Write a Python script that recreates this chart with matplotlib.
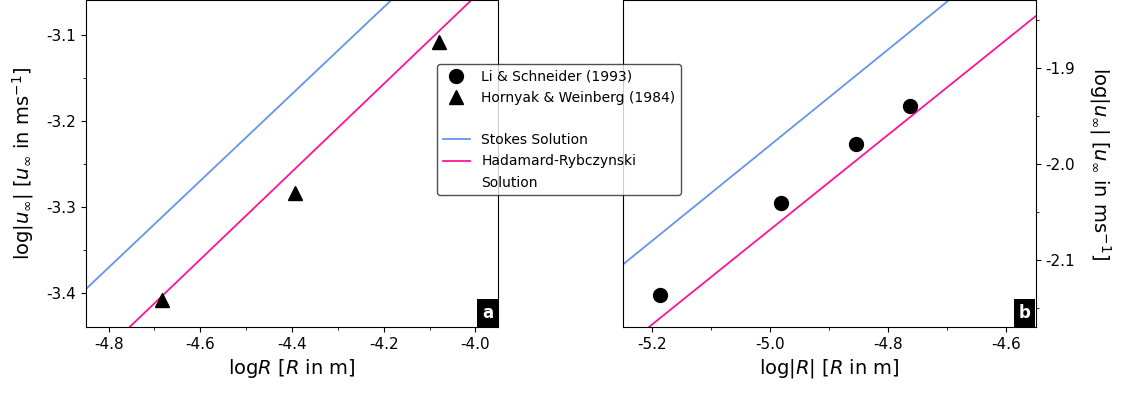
import matplotlib
matplotlib.use("Agg")
import matplotlib.pyplot as plt
from matplotlib.lines import Line2D
import numpy as np

# Panel a: Hornyak & Weinberg (1984)
hw_logR = [-4.684, -4.393, -4.080]
hw_logu = [-3.408, -3.284, -3.108]
# Theory lines, panel a (endpoints in log R, log u)
a_line_logR = [-4.85, -3.95]
a_stokes_logu = [-3.396, -2.941]
a_hr_logu = [-3.489, -3.029]

# Panel b: Li & Schneider (1993)
ls_logR = [-5.186, -4.982, -4.855, -4.762]
ls_logu = [-2.137, -2.041, -1.979, -1.940]
b_line_logR = [-5.25, -4.55]
b_stokes_logu = [-2.105, -1.756]
b_hr_logu = [-2.192, -1.846]

a_xticks = [-4.8, -4.6, -4.4, -4.2, -4.0]
a_yticks = [-3.4, -3.3, -3.2, -3.1]
b_xticks = [-5.2, -5.0, -4.8, -4.6]
b_yticks = [-2.1, -2.0, -1.9]

legend_labels = ["Li & Schneider (1993)", "Hornyak & Weinberg (1984)", " ",
                 "Stokes Solution", "Hadamard-Rybczynski", "Solution"]

stokes_color = "cornflowerblue"
hr_color = "#ff1493"

plt.rcParams["font.family"] = "DejaVu Sans"
fig = plt.figure(figsize=(11.35, 3.96), dpi=100)
axa = fig.add_axes([85.7/1135, 69/396, 412.7/1135, 327/396])
axb = fig.add_axes([622.7/1135, 69/396, 412.8/1135, 327/396])

lw = 1.3
axa.plot(a_line_logR, a_stokes_logu, color=stokes_color, lw=lw)
axa.plot(a_line_logR, a_hr_logu, color=hr_color, lw=lw)
axa.plot(hw_logR, hw_logu, linestyle="none", marker="^", color="black", ms=10)
axa.set_xlim(-4.85, -3.95)
axa.set_ylim(-3.44, -3.059)
axa.set_xticks(a_xticks)
axa.set_xticklabels([f"{v:.1f}" for v in a_xticks])
axa.set_yticks(a_yticks)
axa.set_yticklabels([f"{v:.1f}" for v in a_yticks])
axa.set_xticks(np.arange(-4.7, -3.95, 0.2), minor=True)
axa.set_yticks([-3.35, -3.25, -3.15], minor=True)
axa.set_xlabel(r"log$R$ [$R$ in m]", fontsize=14)
axa.set_ylabel(r"log$|u_{\infty}|$ [$u_{\infty}$ in ms$^{-1}$]", fontsize=14,
               labelpad=7)

axb.plot(b_line_logR, b_stokes_logu, color=stokes_color, lw=lw)
axb.plot(b_line_logR, b_hr_logu, color=hr_color, lw=lw)
axb.plot(ls_logR, ls_logu, linestyle="none", marker="o", color="black", ms=10)
axb.set_xlim(-5.25, -4.55)
axb.set_ylim(-2.17, -1.829)
axb.set_xticks(b_xticks)
axb.set_xticklabels([f"{v:.1f}" for v in b_xticks])
axb.set_yticks(b_yticks)
axb.set_yticklabels([f"{v:.1f}" for v in b_yticks])
axb.set_xticks([-5.1, -4.9, -4.7], minor=True)
axb.set_yticks([-2.15, -2.05, -1.95, -1.85], minor=True)
axb.yaxis.tick_right()
axb.yaxis.set_label_position("right")
axb.set_xlabel(r"log$|R|$ [$R$ in m]", fontsize=14)
axb.set_ylabel(r"log$|u_{\infty}|$ [$u_{\infty}$ in ms$^{-1}$]", fontsize=14,
               rotation=270, labelpad=27)

for ax, lab in ((axa, "a"), (axb, "b")):
    ax.tick_params(labelsize=11)
    ax.text(0.988, 0.016, lab, transform=ax.transAxes, ha="right", va="bottom",
            color="white", fontweight="bold", fontsize=12,
            bbox=dict(facecolor="black", edgecolor="none", pad=3.5))

handles = [
    Line2D([], [], linestyle="none", marker="o", color="black", ms=10),
    Line2D([], [], linestyle="none", marker="^", color="black", ms=10),
    Line2D([], [], linestyle="none", color="none"),
    Line2D([], [], color=stokes_color, lw=lw),
    Line2D([], [], color=hr_color, lw=lw),
    Line2D([], [], linestyle="none", color="none"),
]
leg = fig.legend(handles, legend_labels, loc="upper left",
                 bbox_to_anchor=(437/1135, 1 - 64/396), borderaxespad=0,
                 fontsize=10, labelspacing=0.52,
                 frameon=True, edgecolor="0.15", framealpha=0.8)

fig.savefig("out.png", dpi=100)
